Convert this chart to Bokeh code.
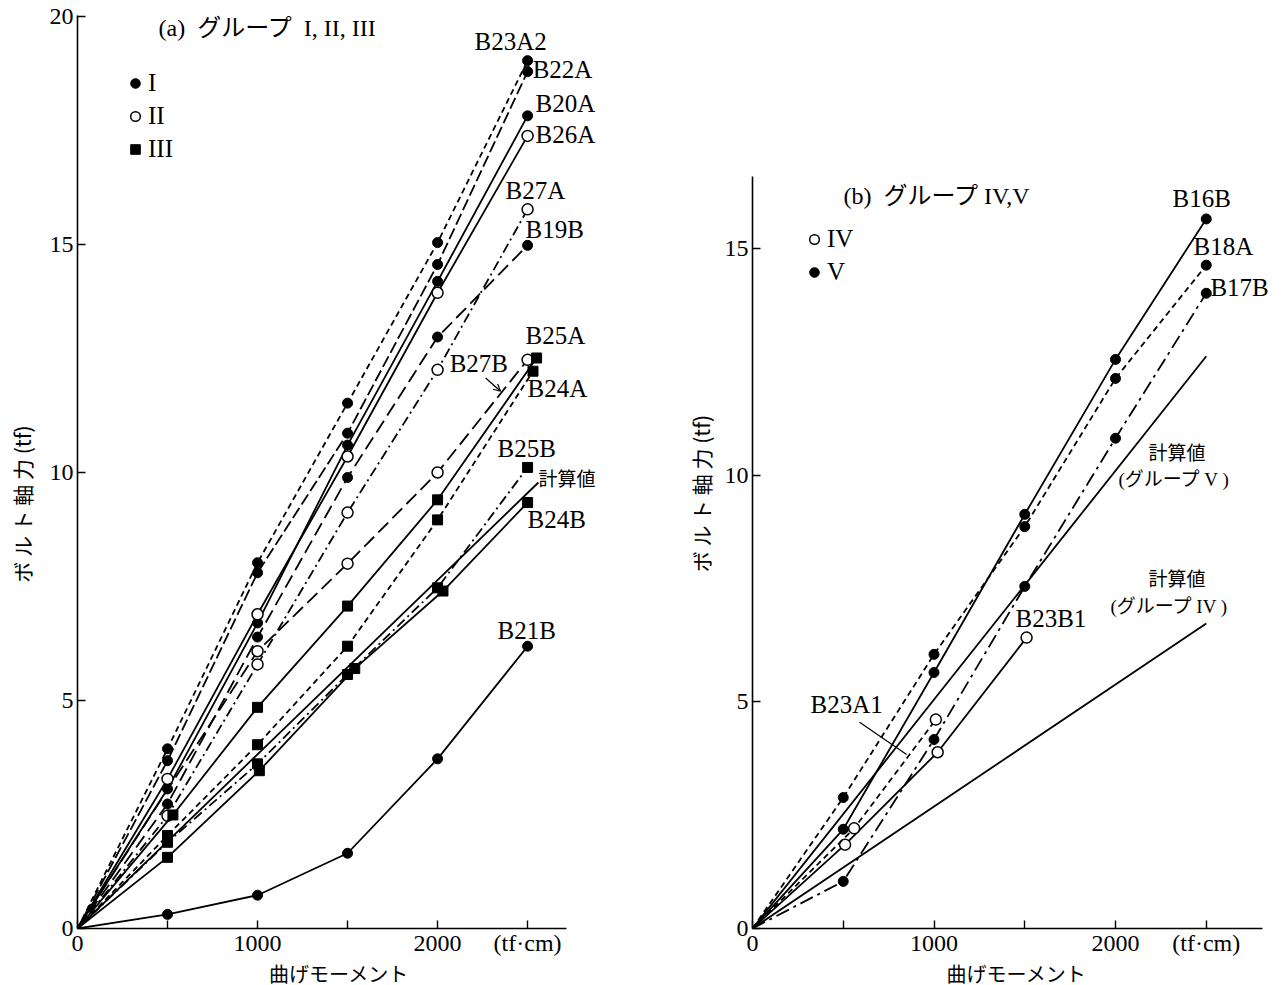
from bokeh.plotting import figure
from bokeh.layouts import row
from bokeh.models import (FixedTicker, Range1d, Label, Legend, LegendItem, LinearAxis,
                          Arrow, OpenHead)
from bokeh.embed import file_html
from bokeh.resources import INLINE

SERIF = "Liberation Serif"
JP = "Noto Sans CJK JP"
MIX = "Liberation Serif, Noto Sans CJK JP"

# ---------------- data: panel (a) groups I, II, III ----------------
a_names = ["B23A2", "B22A", "B20A", "B19B", "B26A", "B27A", "B27B",
           "B25A", "B24A", "B25B", "B24B", "B21B"]
a_group = ["I", "I", "I", "I", "II", "II", "II",
           "III", "III", "III", "III", "I"]
a_x = [
    [0, 500, 1000, 1500, 2000, 2500],
    [0, 500, 1000, 1500, 2000, 2500],
    [0, 500, 1000, 1500, 2000, 2500],
    [0, 500, 1000, 1500, 2000, 2500],
    [0, 500, 1000, 1500, 2000, 2500],
    [0, 500, 1000, 1500, 2000, 2500],
    [0, 1000, 1500, 2000, 2500],
    [0, 530, 1000, 1500, 2000, 2550],
    [0, 500, 1000, 1500, 2000, 2530],
    [0, 500, 1000, 1500, 2000, 2500],
    [0, 500, 1010, 1540, 2030, 2500],
    [0, 500, 1000, 1500, 2000, 2500],
]
a_y = [
    [0, 3.94, 8.02, 11.52, 15.04, 19.03],
    [0, 3.68, 7.80, 10.86, 14.56, 18.79],
    [0, 3.06, 6.70, 10.60, 14.19, 17.82],
    [0, 2.73, 6.39, 9.89, 12.97, 14.98],
    [0, 3.28, 6.89, 10.35, 13.94, 17.38],
    [0, 2.47, 5.79, 9.12, 12.25, 15.77],
    [0, 6.08, 8.00, 10.00, 12.47],
    [0, 2.49, 4.85, 7.07, 9.40, 12.51],
    [0, 2.04, 4.03, 6.19, 8.96, 12.22],
    [0, 1.89, 3.61, 5.57, 7.47, 10.11],
    [0, 1.56, 3.46, 5.70, 7.40, 9.34],
    [0, 0.31, 0.73, 1.65, 3.72, 6.19],
]
a_dash = ["6 4", "12 4", "solid", "14 6", "solid", "10 4 2 4", "14 6",
          "solid", "6 4", "10 4 2 4", "solid", "solid"]
a_calc_x = [0, 2560]
a_calc_y = [0, 9.78]

# label positions (data coords, left edge / baseline) and text
a_lab_x = [2205, 2528, 2544, 2544, 2378, 2489, 2067, 2489, 2500, 2333, 2561, 2500, 2333]
a_lab_y = [19.45, 18.83, 18.10, 17.42, 16.19, 15.33, 12.38, 13.00, 11.85, 10.53, 9.90, 8.97, 6.54]
a_lab_t = ["B23A2", "B22A", "B20A", "B26A", "B27A", "B19B", "B27B",
           "B25A", "B24A", "B25B", "計算値", "B24B", "B21B"]

# ---------------- data: panel (b) groups IV, V ----------------
b_names = ["B16B", "B18A", "B17B", "B23B1", "B23A1"]
b_group = ["V", "V", "V", "IV", "IV"]
b_x = [
    [0, 500, 1000, 1500, 2000, 2500],
    [0, 500, 1000, 1500, 2000, 2500],
    [0, 500, 1000, 1500, 2000, 2500],
    [0, 510, 1020, 1510],
    [0, 560, 1010],
]
b_y = [
    [0, 2.19, 5.65, 9.14, 12.56, 15.66],
    [0, 2.89, 6.05, 8.87, 12.14, 14.64],
    [0, 1.04, 4.17, 7.55, 10.82, 14.02],
    [0, 1.85, 3.89, 6.42],
    [0, 2.21, 4.61],
]
b_dash = ["solid", "6 4", "14 5 3 5", "solid", "6 4"]
b_calcV_x = [0, 2500]
b_calcV_y = [0, 12.63]
b_calcIV_x = [0, 2500]
b_calcIV_y = [0, 6.73]

b_lab_x = [2314, 2430, 2523, 2182, 2016, 2182, 1972, 1449, 320]
b_lab_y = [16.11, 15.05, 14.15, 10.48, 9.91, 7.70, 7.11, 6.84, 4.94]
b_lab_t = ["B16B", "B18A", "B17B", "計算値", "(グループ V )", "計算値",
           "(グループ IV )", "B23B1", "B23A1"]

# leader lines (annotation)
a_arrow = [2267, 12.07, 2350, 11.78]
b_leader = [590, 4.55, 849, 3.84]

XT = [0, 500, 1000, 1500, 2000, 2500]
XT_OVR = {0: "0", 500: "", 1000: "1000", 1500: "", 2000: "2000", 2500: "(tf·cm)"}
Y_TITLE = "ボ ル ト 軸 力 (tf)"


def style(p, yticks, xbound, ybound, pad, title_standoff):
    p.xaxis.ticker = FixedTicker(ticks=XT)
    p.xaxis.major_label_overrides = XT_OVR
    p.yaxis.ticker = FixedTicker(ticks=yticks)
    p.xaxis.bounds = xbound
    p.yaxis.bounds = ybound
    for ax in (p.xaxis[0], p.yaxis[0]):
        ax.major_tick_in = 8
        ax.major_tick_out = 0
        ax.minor_tick_in = 0
        ax.minor_tick_out = 0
        ax.axis_line_width = 1.6
        ax.major_tick_line_width = 1.4
        ax.axis_line_color = "black"
        ax.major_tick_line_color = "black"
        ax.major_label_text_font = SERIF
        ax.major_label_text_font_size = "24px"
        ax.major_label_text_color = "black"
        ax.axis_label_text_font = JP
        ax.axis_label_text_font_style = "normal"
        ax.axis_label_text_color = "black"
    p.xaxis.axis_label = "曲げモーメント"
    p.xaxis.axis_label_text_font_size = "20px"
    p.xaxis.axis_label_standoff = 0
    p.xaxis.major_label_standoff = 1
    p.yaxis.major_label_standoff = 4
    # y-axis title on a bare axis, a little further out than the tick labels
    t = LinearAxis(ticker=FixedTicker(ticks=[]),
                   axis_line_color=None, major_tick_line_color=None,
                   minor_tick_line_color=None, major_label_text_font_size="0px",
                   axis_label=Y_TITLE + pad, axis_label_text_font=JP,
                   axis_label_text_font_size="21px", axis_label_text_font_style="normal",
                   axis_label_text_color="black", axis_label_standoff=title_standoff)
    p.add_layout(t, "left")
    p.xgrid.visible = False
    p.ygrid.visible = False
    p.outline_line_color = None
    p.background_fill_color = "white"
    p.border_fill_color = "white"


def draw_series(p, xs, ys, dash, kind):
    if dash == "solid":
        p.line(xs, ys, line_color="black", line_width=1.8)
    else:
        p.line(xs, ys, line_color="black", line_width=1.8, line_dash=dash)
    px = xs[1:]
    py = ys[1:]
    if kind == "filled":
        p.scatter(px, py, marker="circle", size=10, fill_color="black", line_color="black")
    elif kind == "open":
        p.scatter(px, py, marker="circle", size=11, fill_color="white", line_color="black", line_width=1.5)
    else:
        p.scatter(px, py, marker="square", size=10, fill_color="black", line_color="black")


kind_a = {"I": "filled", "II": "open", "III": "square"}
kind_b = {"IV": "open", "V": "filled"}

# ---------------- panel (a) ----------------
pa = figure(width=680, height=984, output_backend="svg", toolbar_location=None,
            x_range=Range1d(0, 2905), y_range=Range1d(0, 20.02),
            min_border_left=77, min_border_right=80, min_border_top=15, min_border_bottom=56,
            frame_width=523, frame_height=913)
style(pa, [0, 5, 10, 15, 20], (0, 2717), (0, 20.02), "\u3000\u3000\u3000", 10)

for xs, ys, d, g in zip(a_x, a_y, a_dash, a_group):
    draw_series(pa, xs, ys, d, kind_a[g])
pa.line(a_calc_x, a_calc_y, line_color="black", line_width=1.8)

for lx, ly, lt in zip(a_lab_x, a_lab_y, a_lab_t):
    jp = lt == "計算値"
    pa.add_layout(Label(x=lx, y=ly, text=lt, text_font=JP if jp else SERIF,
                        text_font_size="19px" if jp else "25px",
                        text_color="black", text_baseline="alphabetic"))
pa.add_layout(Label(x=450, y=19.75, text="(a)\u00a0 グループ\u00a0 I,\u00a0II,\u00a0III", text_font=MIX,
                    text_font_size="24px", text_color="black", text_baseline="alphabetic"))
pa.add_layout(Arrow(x_start=a_arrow[0], y_start=a_arrow[1], x_end=a_arrow[2], y_end=a_arrow[3],
                    line_color="black", line_width=1.2,
                    end=OpenHead(size=7, line_color="black", line_width=1.2)))

la_f = pa.scatter([-1000], [-1000], marker="circle", size=10, fill_color="black", line_color="black")
la_o = pa.scatter([-1000], [-1000], marker="circle", size=11, fill_color="white", line_color="black", line_width=1.5)
la_s = pa.scatter([-1000], [-1000], marker="square", size=10, fill_color="black", line_color="black")
leg_a = Legend(items=[LegendItem(label="I", renderers=[la_f]),
                      LegendItem(label="II", renderers=[la_o]),
                      LegendItem(label="III", renderers=[la_s])],
               location=(46, 765), glyph_width=24, glyph_height=26, label_standoff=1,
               spacing=5, padding=0, margin=0, border_line_color=None,
               background_fill_alpha=0, label_text_font=SERIF, label_text_font_size="25px",
               label_text_color="black")
pa.add_layout(leg_a)

# ---------------- panel (b) ----------------
pb = figure(width=604, height=984, output_backend="svg", toolbar_location=None,
            x_range=Range1d(0, 2909), y_range=Range1d(0, 20.15),
            min_border_left=72, min_border_right=4, min_border_top=15, min_border_bottom=56,
            frame_width=528, frame_height=913)
style(pb, [0, 5, 10, 15], (0, 2808), (0, 16.6), "\u3000\u3000", 6)

for xs, ys, d, g in zip(b_x, b_y, b_dash, b_group):
    draw_series(pb, xs, ys, d, kind_b[g])
pb.line(b_calcV_x, b_calcV_y, line_color="black", line_width=1.8)
pb.line(b_calcIV_x, b_calcIV_y, line_color="black", line_width=1.8)

for lx, ly, lt in zip(b_lab_x, b_lab_y, b_lab_t):
    jp = ("計算" in lt) or ("グループ" in lt)
    pb.add_layout(Label(x=lx, y=ly, text=lt, text_font=MIX if jp else SERIF,
                        text_font_size="19px" if jp else "25px",
                        text_color="black", text_baseline="alphabetic"))
pb.add_layout(Label(x=501, y=16.17, text="(b)\u00a0 グループ IV,V", text_font=MIX,
                    text_font_size="24px", text_color="black", text_baseline="alphabetic"))
pb.segment(x0=[b_leader[0]], y0=[b_leader[1]], x1=[b_leader[2]], y1=[b_leader[3]],
           line_color="black", line_width=1.2)

lb_o = pb.scatter([-1000], [-1000], marker="circle", size=10, fill_color="white", line_color="black", line_width=1.5)
lb_f = pb.scatter([-1000], [-1000], marker="circle", size=10, fill_color="black", line_color="black")
leg_b = Legend(items=[LegendItem(label="IV", renderers=[lb_o]),
                      LegendItem(label="V", renderers=[lb_f])],
               location=(50, 642), glyph_width=24, glyph_height=26, label_standoff=1,
               spacing=5, padding=0, margin=0, border_line_color=None,
               background_fill_alpha=0, label_text_font=SERIF, label_text_font_size="25px",
               label_text_color="black")
pb.add_layout(leg_b)

layout = row(pa, pb)
open("out.html", "w").write(file_html(layout, INLINE))
